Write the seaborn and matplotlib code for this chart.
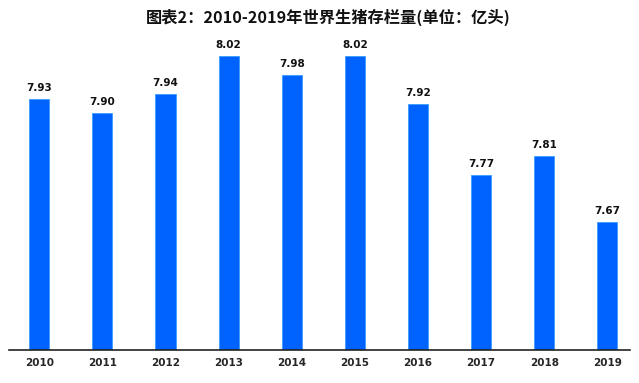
import matplotlib
matplotlib.use('Agg')
import matplotlib.pyplot as plt
import numpy as np
import pandas as pd
import seaborn as sns

### Data ###
years = ['2010', '2011', '2012', '2013', '2014', '2015', '2016', '2017', '2018', '2019']
stock = [7.93, 7.90, 7.94, 8.02, 7.98, 8.02, 7.92, 7.77, 7.81, 7.67]
title = '图表2：2010-2019年世界生猪存栏量(单位：亿头)'

df = pd.DataFrame({'year': years, 'stock': stock})

sns.set_style('white')
plt.rcParams['font.family'] = ['Noto Sans CJK SC', 'DejaVu Sans']

fig = plt.figure(figsize=(6.39, 3.83), dpi=100)
ax = fig.add_axes([9 / 639, 33 / 383, 621 / 639, 310 / 383])

sns.barplot(data=df, x='year', y='stock', color='#0062ff', saturation=1,
            width=0.32, edgecolor='#3b9bff', linewidth=0.6, ax=ax)

ax.set_ylim(7.40, 8.054)
ax.set_xlim(-0.48, 9.36)

for i, v in enumerate(stock):
    ax.text(i, v + 0.012, f'{v:.2f}', ha='center', va='bottom',
            fontsize=7.5, fontweight='bold', color='#111111', family='DejaVu Sans')

for s in ['top', 'right', 'left']:
    ax.spines[s].set_visible(False)
ax.spines['bottom'].set_color('#222222')
ax.spines['bottom'].set_linewidth(1.2)
ax.set_yticks([])
ax.tick_params(axis='x', length=0, pad=6)
for lab in ax.get_xticklabels():
    lab.set_fontweight('bold')
    lab.set_fontsize(7.5)
    lab.set_family('DejaVu Sans')
ax.set_xlabel('')
ax.set_ylabel('')

fig.text(328 / 639, 1 - 17 / 383, title, ha='center', va='center',
         fontsize=11.7, fontweight='bold', color='#111111')

fig.savefig('out.png', dpi=100)
